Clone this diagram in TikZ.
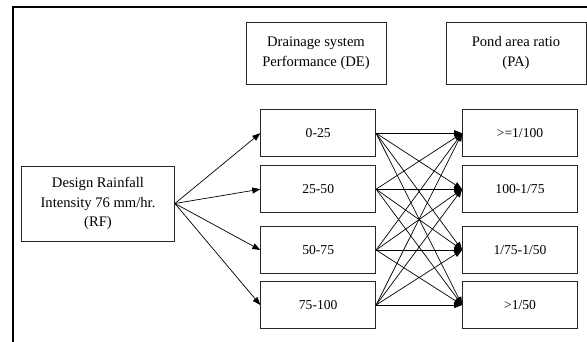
\documentclass[tikz,border=0pt]{standalone}
\usepackage{fontspec}
\setmainfont{Liberation Serif}
\usetikzlibrary{arrows.meta}

\tikzset{
  box/.style={draw=black!85, line width=0.8pt, inner sep=0pt, align=center},
  headbox/.style={box, minimum width=140pt, minimum height=62pt,
    font=\fontsize{14.6}{20}\selectfont},
  srcbox/.style={box, minimum width=153pt, minimum height=75pt,
    font=\fontsize{14.6}{19.6}\selectfont},
  valbox/.style={box, minimum width=115pt, minimum height=47pt,
    font=\fontsize{13.6}{16}\selectfont},
  link/.style={draw=black, line width=0.7pt,
    -{Triangle[length=8pt,width=6pt]}},
}

\begin{document}
\begin{tikzpicture}[x=1pt, y=-1pt]
  \useasboundingbox (0,0) rectangle (587,342);
  \clip (0,0) rectangle (587,342);

  % outer frame, running past the page edges
  \draw[line width=1.3pt] (13,400) -- (13,7) -- (620,7);

  % column headers
  \node[headbox] (hde) at (316,53) {Drainage system\\Performance (DE)};
  \node[headbox] (hpa) at (516,53) {Pond area ratio\\(PA)};

  % input
  \node[srcbox] (rf) at (98,203.5) {Design Rainfall\\Intensity 76 mm/hr.\\(RF)};

  % drainage performance classes
  \node[valbox] (de1) at (318.2,133.2) {0-25};
  \node[valbox] (de2) at (318.2,189.2) {25-50};
  \node[valbox] (de3) at (318.2,250) {50-75};
  \node[valbox] (de4) at (318.2,305) {75-100};

  % pond area ratio classes
  \node[valbox] (pa1) at (520,133.2) {>=1/100};
  \node[valbox] (pa2) at (520,189.2) {100-1/75};
  \node[valbox] (pa3) at (520,250) {1/75-1/50};
  \node[valbox] (pa4) at (520,305) {>1/50};

  % rainfall to each performance class
  \foreach \d in {1,...,4}
    \draw[link] (rf.east) -- (de\d.west);

  % every performance class to every pond area class
  \foreach \d in {1,...,4}
    \foreach \p in {1,...,4}
      \draw[link] (de\d.east) -- (pa\p.west);
\end{tikzpicture}
\end{document}
